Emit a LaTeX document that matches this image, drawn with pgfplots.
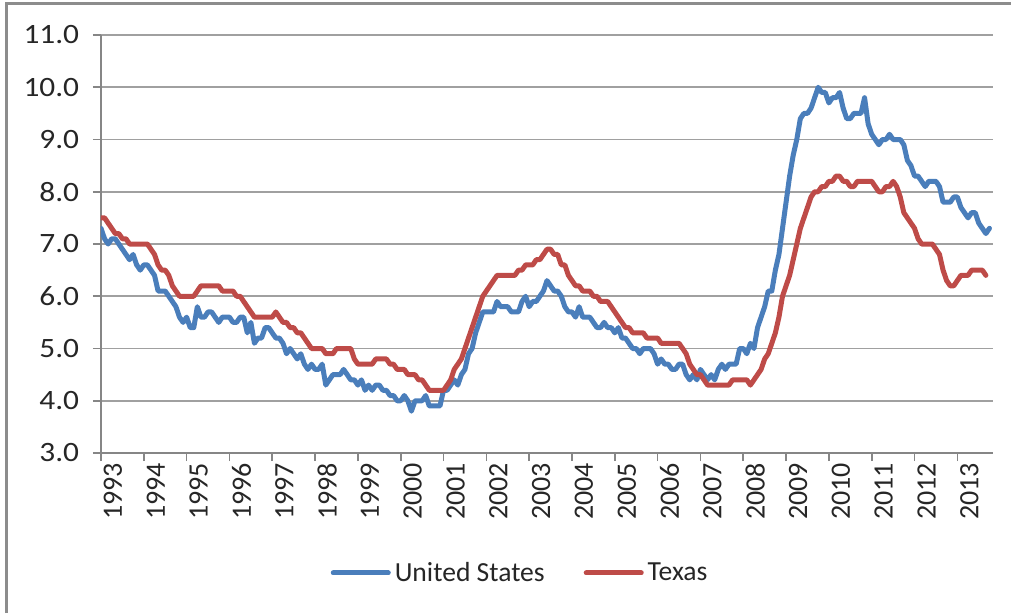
\documentclass[border=0pt]{standalone}
\usepackage{fontspec}
\setmainfont{Carlito}
\usepackage{pgfplots}
\usepackage{pgfplotstable}
\pgfplotsset{compat=1.18}
\definecolor{usblue}{HTML}{4A7EBB}
\definecolor{txred}{HTML}{BE4B48}
\definecolor{gridgray}{HTML}{A0A0A0}
\definecolor{axisgray}{HTML}{868686}
\definecolor{framegray}{HTML}{8C8C8C}
\pgfplotstableread{
v
7.3
7.1
7.0
7.1
7.1
7.0
6.9
6.8
6.7
6.8
6.6
6.5
6.6
6.6
6.5
6.4
6.1
6.1
6.1
6.0
5.9
5.8
5.6
5.5
5.6
5.4
5.4
5.8
5.6
5.6
5.7
5.7
5.6
5.5
5.6
5.6
5.6
5.5
5.5
5.6
5.6
5.3
5.5
5.1
5.2
5.2
5.4
5.4
5.3
5.2
5.2
5.1
4.9
5.0
4.9
4.8
4.9
4.7
4.6
4.7
4.6
4.6
4.7
4.3
4.4
4.5
4.5
4.5
4.6
4.5
4.4
4.4
4.3
4.4
4.2
4.3
4.2
4.3
4.3
4.2
4.2
4.1
4.1
4.0
4.0
4.1
4.0
3.8
4.0
4.0
4.0
4.1
3.9
3.9
3.9
3.9
4.2
4.2
4.3
4.4
4.3
4.5
4.6
4.9
5.0
5.3
5.5
5.7
5.7
5.7
5.7
5.9
5.8
5.8
5.8
5.7
5.7
5.7
5.9
6.0
5.8
5.9
5.9
6.0
6.1
6.3
6.2
6.1
6.1
6.0
5.8
5.7
5.7
5.6
5.8
5.6
5.6
5.6
5.5
5.4
5.4
5.5
5.4
5.4
5.3
5.4
5.2
5.2
5.1
5.0
5.0
4.9
5.0
5.0
5.0
4.9
4.7
4.8
4.7
4.7
4.6
4.6
4.7
4.7
4.5
4.4
4.5
4.4
4.6
4.5
4.4
4.5
4.4
4.6
4.7
4.6
4.7
4.7
4.7
5.0
5.0
4.9
5.1
5.0
5.4
5.6
5.8
6.1
6.1
6.5
6.8
7.3
7.8
8.3
8.7
9.0
9.4
9.5
9.5
9.6
9.8
10.0
9.9
9.9
9.7
9.8
9.8
9.9
9.6
9.4
9.4
9.5
9.5
9.5
9.8
9.3
9.1
9.0
8.9
9.0
9.0
9.1
9.0
9.0
9.0
8.9
8.6
8.5
8.3
8.3
8.2
8.1
8.2
8.2
8.2
8.1
7.8
7.8
7.8
7.9
7.9
7.7
7.6
7.5
7.6
7.6
7.4
7.3
7.2
7.3
}\usdata
\pgfplotstableread{
v
7.5
7.5
7.4
7.3
7.2
7.2
7.1
7.1
7.0
7.0
7.0
7.0
7.0
7.0
6.9
6.8
6.6
6.5
6.5
6.4
6.2
6.1
6.0
6.0
6.0
6.0
6.0
6.1
6.2
6.2
6.2
6.2
6.2
6.2
6.1
6.1
6.1
6.1
6.0
6.0
5.9
5.8
5.7
5.6
5.6
5.6
5.6
5.6
5.6
5.7
5.6
5.5
5.5
5.4
5.4
5.3
5.3
5.2
5.1
5.0
5.0
5.0
5.0
4.9
4.9
4.9
5.0
5.0
5.0
5.0
5.0
4.8
4.7
4.7
4.7
4.7
4.7
4.8
4.8
4.8
4.8
4.7
4.7
4.6
4.6
4.6
4.5
4.5
4.5
4.4
4.4
4.3
4.2
4.2
4.2
4.2
4.2
4.3
4.4
4.6
4.7
4.8
5.0
5.2
5.4
5.6
5.8
6.0
6.1
6.2
6.3
6.4
6.4
6.4
6.4
6.4
6.4
6.5
6.5
6.6
6.6
6.6
6.7
6.7
6.8
6.9
6.9
6.8
6.8
6.6
6.6
6.4
6.3
6.2
6.2
6.1
6.1
6.1
6.0
6.0
5.9
5.9
5.9
5.8
5.7
5.6
5.5
5.4
5.4
5.3
5.3
5.3
5.3
5.2
5.2
5.2
5.2
5.1
5.1
5.1
5.1
5.1
5.1
5.0
4.9
4.7
4.6
4.5
4.5
4.4
4.3
4.3
4.3
4.3
4.3
4.3
4.3
4.4
4.4
4.4
4.4
4.4
4.3
4.4
4.5
4.6
4.8
4.9
5.1
5.3
5.6
6.0
6.2
6.4
6.7
7.0
7.3
7.5
7.7
7.9
8.0
8.0
8.1
8.1
8.2
8.2
8.3
8.3
8.2
8.2
8.1
8.1
8.2
8.2
8.2
8.2
8.2
8.1
8.0
8.0
8.1
8.1
8.2
8.1
7.9
7.6
7.5
7.4
7.3
7.1
7.0
7.0
7.0
7.0
6.9
6.8
6.5
6.3
6.2
6.2
6.3
6.4
6.4
6.4
6.5
6.5
6.5
6.5
6.4
}\txdata
\begin{document}
\begin{tikzpicture}[x=1bp,y=1bp]
\path[use as bounding box] (-50.5,-80) rectangle (455,226.5);
\draw[line width=1.5bp, framegray] (-47,-80) -- (-47,225) -- (455,225);
\begin{axis}[
  at={(0,0)}, anchor=south west,
  width=446bp, height=209bp, scale only axis,
  xmin=0, xmax=250, ymin=3, ymax=11,
  axis x line=bottom, axis y line=left,
  axis line style={-, draw=axisgray, line width=0.8bp},
  tick align=outside, major tick length=4bp,
  tick style={axisgray, line width=0.8bp},
  ytick={3,4,5,6,7,8,9,10,11},
  yticklabels={3.0,4.0,5.0,6.0,7.0,8.0,9.0,10.0,11.0},
  xtick={0,12,24,36,48,60,72,84,96,108,120,132,144,156,168,180,192,204,216,228,240},
  xticklabels={1993,1994,1995,1996,1997,1998,1999,2000,2001,2002,2003,2004,2005,2006,2007,2008,2009,2010,2011,2012,2013},
  xticklabel style={rotate=90, anchor=east, xshift=2.5bp, yshift=-6bp},
  yticklabel style={xshift=-3bp, xscale=1.12},
  ymajorgrids, grid style={gridgray, line width=0.8bp},
  font=\fontsize{14bp}{16bp}\selectfont,
  every tick label/.append style={black!85},
  legend style={at={(0.471,-0.287)}, anchor=center, draw=none, fill=none,
    legend columns=2, font=\fontsize{13.8bp}{16bp}\selectfont, text=black!85,
    /tikz/every even column/.append style={column sep=17.5bp}},
  legend image code/.code={\draw[#1, line width=2.5bp] (0bp,0bp) -- (27.5bp,0bp);},
  every axis plot/.append style={line width=2.5bp, line join=round, line cap=round},
]
\addplot[usblue, no markers] table[x expr=\coordindex, y=v] {\usdata};
\addlegendentry{United States}
\addplot[txred, no markers] table[x expr=\coordindex, y=v] {\txdata};
\addlegendentry{Texas}
\end{axis}
\end{tikzpicture}
\end{document}
